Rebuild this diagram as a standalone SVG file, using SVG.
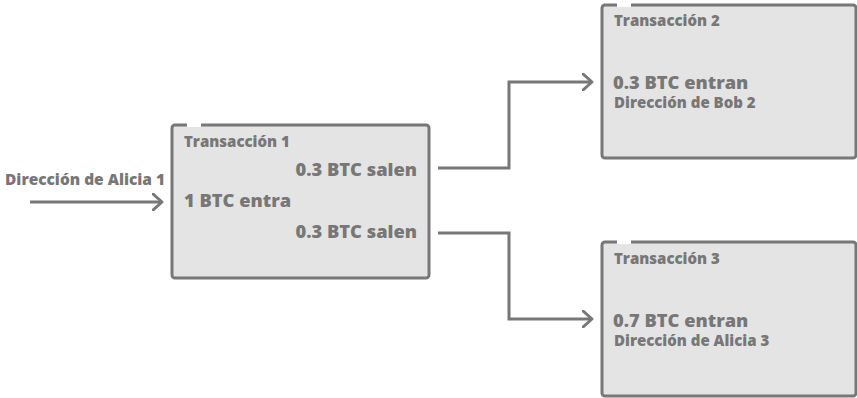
<svg xmlns="http://www.w3.org/2000/svg" width="857" height="398" viewBox="0 0 857 398">
<defs>
<style>
.box{fill:#e4e4e4;stroke:#777;stroke-width:3}
.gap{stroke:#fff;stroke-width:4}
.t{font-family:"Open Sans","Liberation Sans",sans-serif;font-weight:800;fill:#777}
.s{font-size:15px}
.b{font-size:18.3px}
.c{fill:none;stroke:#777;stroke-width:3}
</style>
<marker id="arr" viewBox="0 0 12 18" refX="10" refY="9" markerWidth="12" markerHeight="18" markerUnits="userSpaceOnUse" orient="auto">
<path d="M1,1 L10,9 L1,17" fill="none" stroke="#777" stroke-width="3" stroke-linecap="round" stroke-linejoin="round"/>
</marker>
</defs>
<rect width="857" height="398" fill="#fff"/>
<g id="connectors">
<path class="c" d="M30,202 L162,202" marker-end="url(#arr)"/>
<path class="c" d="M438,168 L509,168 L509,82 L592,82" marker-end="url(#arr)"/>
<path class="c" d="M438,233 L509,233 L509,319 L592,319" marker-end="url(#arr)"/>
</g>
<g id="alicia1">
<text class="t s" x="5" y="185" textLength="160" lengthAdjust="spacingAndGlyphs">Dirección de Alicia 1</text>
</g>
<g id="tx1">
<rect class="box" x="172" y="125" width="257" height="153" rx="3"/>
<line class="gap" x1="187" y1="125" x2="201" y2="125"/>
<text class="t s" x="184" y="147">Transacción 1</text>
<text class="t b" x="417" y="176" text-anchor="end">0.3 BTC salen</text>
<text class="t b" x="184" y="207">1 BTC entra</text>
<text class="t b" x="417" y="238" text-anchor="end">0.3 BTC salen</text>
</g>
<g id="tx2">
<rect class="box" x="602" y="5" width="254" height="153" rx="3"/>
<line class="gap" x1="617" y1="5" x2="631" y2="5"/>
<text class="t s" x="614" y="26">Transacción 2</text>
<text class="t b" x="613" y="89">0.3 BTC entran</text>
<text class="t s" x="614" y="108">Dirección de Bob 2</text>
</g>
<g id="tx3">
<rect class="box" x="602" y="242" width="254" height="154" rx="3"/>
<line class="gap" x1="617" y1="242" x2="631" y2="242"/>
<text class="t s" x="614" y="264">Transacción 3</text>
<text class="t b" x="613" y="327">0.7 BTC entran</text>
<text class="t s" x="614" y="346">Dirección de Alicia 3</text>
</g>
</svg>
